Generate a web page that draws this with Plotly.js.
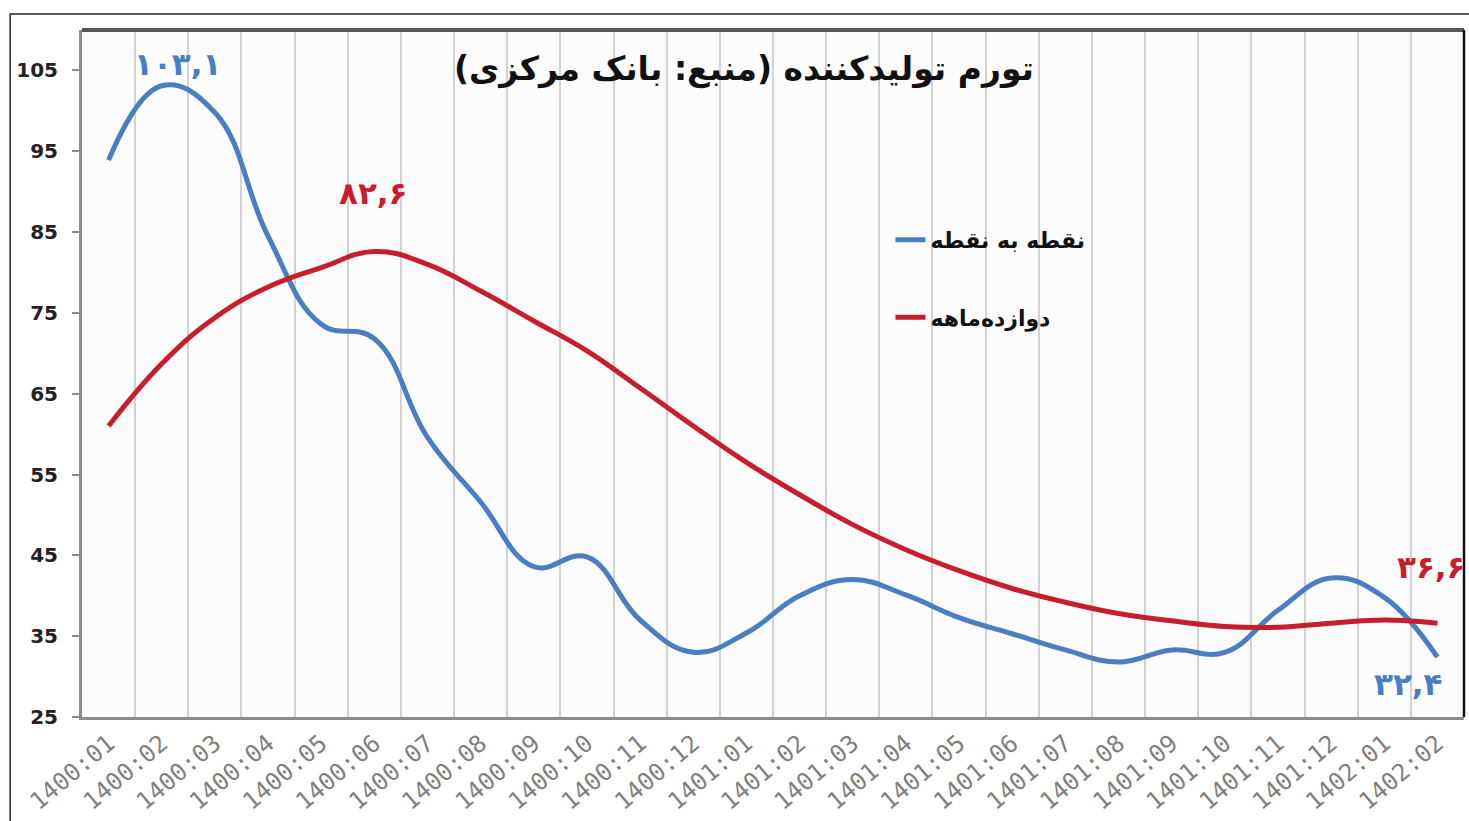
<!DOCTYPE html>
<html>
<head>
<meta charset="utf-8">
<script src="https://cdn.plot.ly/plotly-3.0.1.min.js"></script>
<style>
  html, body { margin: 0; padding: 0; background: #ffffff; }
  #chart { width: 1469px; height: 821px; }
</style>
</head>
<body>
<div id="chart"></div>
<script>
// ---- data ----
const months = [
  '1400:01','1400:02','1400:03','1400:04','1400:05','1400:06',
  '1400:07','1400:08','1400:09','1400:10','1400:11','1400:12',
  '1401:01','1401:02','1401:03','1401:04','1401:05','1401:06',
  '1401:07','1401:08','1401:09','1401:10','1401:11','1401:12',
  '1402:01','1402:02'
];
const pointToPoint = [
  93.9, 103.1, 99.8, 84.5, 73.6, 71.8, 59.6, 51.6, 43.6, 44.8, 37.0, 33.0,
  35.4, 40.0, 42.0, 40.1, 37.3, 35.3, 33.3, 31.8, 33.3, 33.0, 38.2, 42.2,
  39.8, 32.4
];
const twelveMonth = [
  61.0, 68.7, 74.4, 78.2, 80.6, 82.6, 81.0, 77.7, 74.0, 70.3, 65.7, 61.0,
  56.5, 52.5, 48.8, 45.7, 43.1, 40.9, 39.2, 37.8, 36.9, 36.2, 36.1, 36.6,
  37.0, 36.6
];
const seriesNames = ['نقطه به نقطه', 'دوازده‌ماهه'];
const chartTitle = 'تورم تولیدکننده (منبع: بانک مرکزی)';
const yTicks = [25, 35, 45, 55, 65, 75, 85, 95, 105];

const BLUE = '#4a7ec2';
const RED = '#c81e2c';

function toPersian(v) {
  const d = '۰۱۲۳۴۵۶۷۸۹';
  return v.toFixed(1).replace('.', ',').replace(/[0-9]/g, c => d[+c]);
}
function argMax(a) { return a.indexOf(Math.max(...a)); }

const traces = [
  {
    x: months, y: pointToPoint, name: seriesNames[0], type: 'scatter', mode: 'lines',
    line: { color: BLUE, width: 5, shape: 'spline', smoothing: 1.2 },
    legendgroup: 'a'
  },
  {
    x: months, y: twelveMonth, name: seriesNames[1], type: 'scatter', mode: 'lines',
    line: { color: RED, width: 5, shape: 'spline', smoothing: 1.2 },
    legendgroup: 'b'
  }
];

const last = months.length - 1;
const bMax = argMax(pointToPoint);
const rMax = argMax(twelveMonth);
const labelFont = (c) => ({ family: 'DejaVu Sans', size: 31, color: c, weight: 'bold' });

const annotations = [
  { x: months[bMax], y: pointToPoint[bMax], text: toPersian(pointToPoint[bMax]),
    xshift: 16, yshift: 22, showarrow: false, font: labelFont(BLUE) },
  { x: months[rMax], y: twelveMonth[rMax], text: toPersian(twelveMonth[rMax]),
    xshift: -1, yshift: 58, showarrow: false, font: labelFont(RED) },
  { x: months[last], y: twelveMonth[last], text: toPersian(twelveMonth[last]),
    xshift: -6, yshift: 56, showarrow: false, font: labelFont(RED) },
  { x: months[last], y: pointToPoint[last], text: toPersian(pointToPoint[last]),
    xshift: -29, yshift: -27, showarrow: false, font: labelFont(BLUE) }
];

const layout = {
  width: 1469, height: 821,
  margin: { l: 82, r: 5, t: 30, b: 104, autoexpand: false },
  paper_bgcolor: '#ffffff',
  plot_bgcolor: '#fcfcfc',
  title: {
    text: chartTitle + '\u200F',
    xref: 'paper', yref: 'paper', x: 0.479, y: 0.944,
    xanchor: 'center', yanchor: 'middle',
    font: { family: 'DejaVu Sans', size: 33, color: '#111111', weight: 'bold' }
  },
  xaxis: {
    type: 'category',
    range: [-0.5, months.length - 0.5],
    tickson: 'boundaries',
    showgrid: true, gridcolor: '#d2d2d2', gridwidth: 2,
    showline: true, linecolor: '#8c8c8c', linewidth: 3,
    ticks: '', tickangle: -40,
    tickfont: { family: 'DejaVu Sans Mono', size: 24, color: '#808080' },
    automargin: false, fixedrange: true, zeroline: false
  },
  yaxis: {
    range: [25, 110],
    tickvals: yTicks,
    showgrid: false, zeroline: false,
    showline: true, linecolor: '#8c8c8c', linewidth: 3,
    ticks: 'outside', ticklen: 7, tickwidth: 2, tickcolor: '#8c8c8c',
    ticklabelstandoff: 10,
    tickfont: { family: 'DejaVu Sans', size: 20, color: '#222222', weight: 'bold' },
    automargin: false, fixedrange: true
  },
  showlegend: true,
  legend: {
    x: 0.585, y: 0.725, xanchor: 'left', yanchor: 'top',
    bgcolor: 'rgba(0,0,0,0)', borderwidth: 0,
    traceorder: 'grouped', tracegroupgap: 46,
    font: { family: 'DejaVu Sans', size: 22, color: '#111111', weight: 'bold' }
  },
  annotations: annotations,
  shapes: [
    { type: 'rect', xref: 'paper', yref: 'paper', x0: -0.052, x1: 1.05, y0: -0.4, y1: 1.0233,
      line: { color: '#222222', width: 1.5 }, fillcolor: 'rgba(0,0,0,0)', layer: 'above' },
    { type: 'line', xref: 'paper', yref: 'paper', x0: 0, x1: 1, y0: 1, y1: 1,
      line: { color: '#555555', width: 4 }, layer: 'above' },
    { type: 'line', xref: 'paper', yref: 'paper', x0: 1, x1: 1, y0: 0, y1: 1,
      line: { color: '#111111', width: 2.5 }, layer: 'above' }
  ],
  hovermode: false
};

Plotly.newPlot('chart', traces, layout, { displayModeBar: false, staticPlot: true });
</script>
</body>
</html>
